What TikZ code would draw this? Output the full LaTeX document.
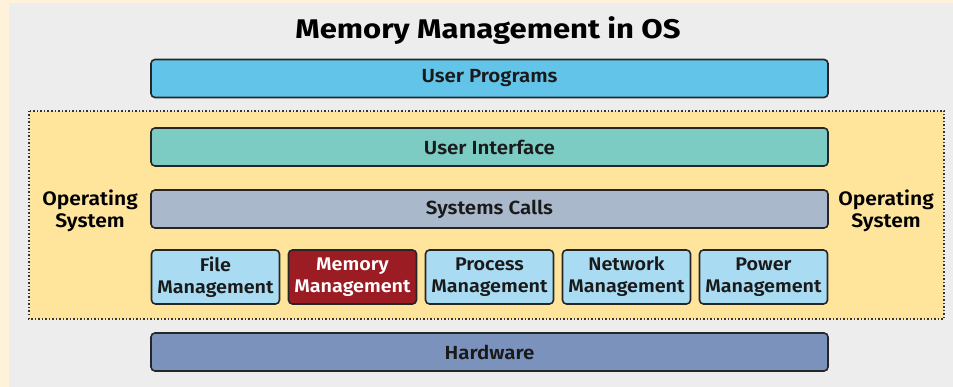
\documentclass[tikz,border=0pt]{standalone}
\usepackage{fontspec}
\setmainfont{Fira Sans}[FakeStretch=1.08, BoldFont={Fira Sans SemiBold}]
\newfontfamily\headfont{Fira Sans}[FakeStretch=1.15]
\definecolor{pagecream}{HTML}{FEF3DA}
\definecolor{panelgray}{HTML}{EDEDED}
\definecolor{osyellow}{HTML}{FFE49C}
\definecolor{userprog}{HTML}{63C4EA}
\definecolor{userif}{HTML}{7DCCC4}
\definecolor{syscall}{HTML}{A9B8CA}
\definecolor{mgmt}{HTML}{A9DCF3}
\definecolor{memred}{HTML}{9B1C22}
\definecolor{hwblue}{HTML}{7A92BC}
\definecolor{inktext}{HTML}{1A1A1A}
\tikzset{
  layer/.style={draw=black!85, line width=1.6pt, rounded corners=4pt,
    minimum width=677pt, minimum height=38pt, inner sep=0pt,
    font=\fontsize{19}{22}\selectfont\bfseries, text=inktext},
  mbox/.style={draw=black!85, line width=1.6pt, rounded corners=4pt,
    minimum width=128pt, minimum height=54pt, inner sep=0pt, fill=mgmt,
    align=center, font=\fontsize{18.3}{22}\selectfont\bfseries, text=inktext},
  oslabel/.style={align=center, font=\fontsize{19.5}{22.5}\selectfont\bfseries, text=black}
}
\begin{document}
\begin{tikzpicture}[x=1pt,y=-1pt]
  % page and panel
  \fill[pagecream] (0,0) rectangle (953,387);
  \fill[panelgray] (9,3) rectangle (953,387);
  \useasboundingbox (0,0) rectangle (953,387);

  % title
  \node[font=\headfont\fontsize{27}{30}\selectfont\bfseries, text=black] (title) at (488,31) {Memory Management in OS};

  % operating system region
  \draw[fill=osyellow, draw=black!80, line width=1.5pt, dotted] (29,111) rectangle (944,319);
  \node[oslabel] (osl) at (90,211) {Operating\\System};
  \node[oslabel] (osr) at (886,211) {Operating\\System};

  % layers
  \node[layer, fill=userprog] (up) at (489.5,78.5) {User Programs};
  \node[layer, fill=userif]   (ui) at (489.5,147) {User Interface};
  \node[layer, fill=syscall]  (sc) at (489.5,209) {Systems Calls};
  \node[layer, fill=hwblue]   (hw) at (489.5,352) {Hardware};

  % management modules
  \node[mbox] (file) at (215.5,277) {File\\Management};
  \node[mbox, fill=memred, text=white] (mem) at (352.5,277) {Memory\\Management};
  \node[mbox] (proc) at (489.5,277) {Process\\Management};
  \node[mbox] (net)  at (626.5,277) {Network\\Management};
  \node[mbox] (pow)  at (763.5,277) {Power\\Management};
\end{tikzpicture}
\end{document}
